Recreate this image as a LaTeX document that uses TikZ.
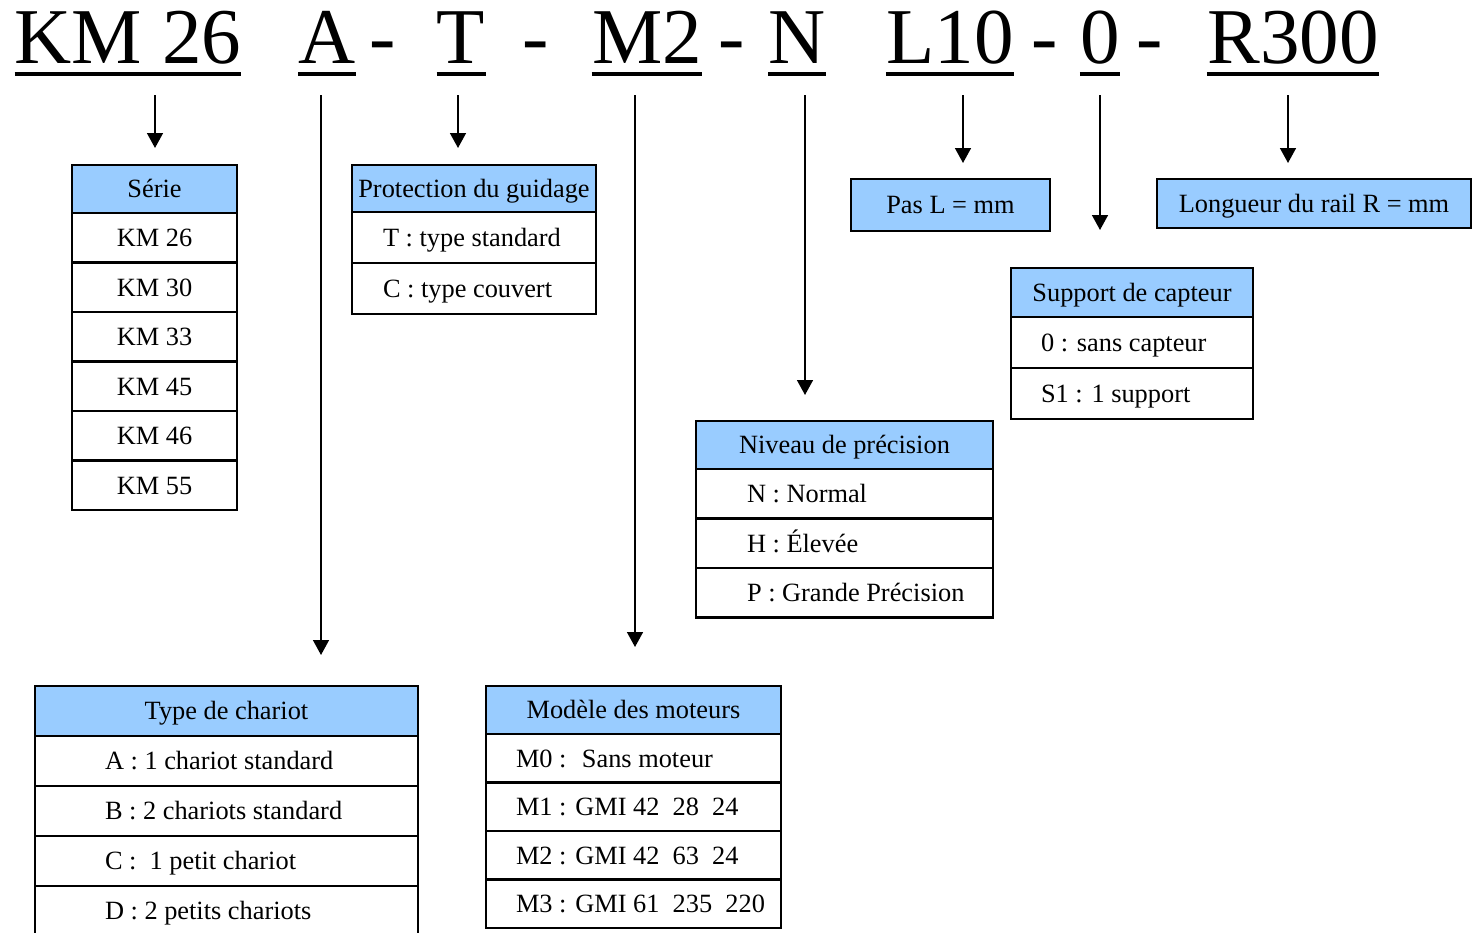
\documentclass[tikz,border=0pt]{standalone}
\usepackage{fontspec}
\setmainfont{Liberation Serif}
\usetikzlibrary{arrows.meta,positioning}
\definecolor{bleuciel}{HTML}{99CCFF}
\tikzset{
  code/.style={font=\fontsize{45}{54}\selectfont, inner sep=0pt, anchor=base},
  souligne/.style={line width=2.3pt},
  fleche/.style={-{Triangle[width=9pt,length=8.5pt]}, line width=1.1pt, shorten <=0.64cm},
  cadre/.style={draw, line width=1.5pt, outer sep=0pt, inner sep=0pt, text height=10pt, text depth=0pt},
  entete/.style={cadre, fill=bleuciel},
  cellule/.style={cadre, fill=white},
  gauche/.style 2 args={execute at begin node={\hbox to #1\bgroup\hspace*{#2}}, execute at end node={\hfil\egroup}},
}

\begin{document}
\begin{tikzpicture}[font=\fontsize{15}{18}\selectfont]
\useasboundingbox (0,0) rectangle (29.44,-18.64);

% code de commande
\node[code] (cserie)   at (2.56,-1.26)  {KM 26};
\node[code] (cchariot) at (6.54,-1.26)  {A};
\node[code] (tiret1)   at (7.66,-1.26)  {-};
\node[code] (cprot)    at (9.22,-1.26)  {T};
\node[code] (tiret2)   at (10.72,-1.26) {-};
\node[code] (cmoteur)  at (12.94,-1.26) {M2};
\node[code] (tiret3)   at (14.64,-1.26) {-};
\node[code] (cprec)    at (15.94,-1.26) {N};
\node[code] (cpas)     at (19.00,-1.26) {L10};
\node[code] (tiret4)   at (20.90,-1.26) {-};
\node[code] (ccapteur) at (22.00,-1.26) {0};
\node[code] (tiret5)   at (23.00,-1.26) {-};
\node[code] (crail)    at (25.86,-1.26) {R300};
\foreach \c in {cserie,cchariot,cprot,cmoteur,cprec,cpas,ccapteur,crail}
  \draw[souligne] ([yshift=-6.2pt]\c.base west) -- ([yshift=-6.2pt]\c.base east);

% serie
\node[entete, minimum width=3.3cm, minimum height=0.96cm] (serie0) at (3.09,-3.78) {Série};
\foreach \txt [count=\i, evaluate=\i as \j using int(\i-1)] in {KM 26,KM 30,KM 33,KM 45,KM 46,KM 55}
  \node[cellule, minimum width=3.3cm, minimum height=0.99cm, below=0pt of serie\j] (serie\i) {\txt};

% protection
\node[entete, minimum width=4.88cm, minimum height=0.94cm] (prot0) at (9.48,-3.77) {Protection du guidage};
\foreach \txt [count=\i, evaluate=\i as \j using int(\i-1)] in {T : type standard,C : type couvert}
  \node[cellule, gauche={4.88cm}{0.62cm}, minimum height=1.02cm, below=0pt of prot\j] (prot\i) {\txt};

% pas et longueur
\node[entete, minimum width=3.98cm, minimum height=1.04cm] (pas) at (19.01,-4.10) {Pas L = mm};
\node[entete, minimum width=6.28cm, minimum height=0.98cm] (rail) at (26.28,-4.07) {Longueur du rail R = mm};

% capteur
\node[entete, minimum width=4.84cm, minimum height=0.98cm] (capteur0) at (22.64,-5.85) {Support de capteur};
\foreach \txt [count=\i, evaluate=\i as \j using int(\i-1)] in {0 : sans capteur,S1 : 1 support}
  \node[cellule, gauche={4.84cm}{0.6cm}, minimum height=1.02cm, below=0pt of capteur\j] (capteur\i) {\txt};

% precision
\node[entete, minimum width=5.94cm, minimum height=0.96cm] (prec0) at (16.89,-8.90) {Niveau de précision};
\foreach \txt [count=\i, evaluate=\i as \j using int(\i-1)] in {N : Normal,H : Élevée,P : Grande Précision}
  \node[cellule, gauche={5.94cm}{1.02cm}, minimum height=0.99cm, below=0pt of prec\j] (prec\i) {\txt};

% chariot
\node[entete, minimum width=7.66cm, minimum height=1.0cm] (chariot0) at (4.53,-14.22) {Type de chariot};
\foreach \txt [count=\i, evaluate=\i as \j using int(\i-1)] in {A : 1 chariot standard,B : 2 chariots standard,C :~ 1 petit chariot,D : 2 petits chariots}
  \node[cellule, gauche={7.66cm}{1.4cm}, minimum height=1.0cm, below=0pt of chariot\j] (chariot\i) {\txt};

% moteurs
\node[entete, minimum width=5.9cm, minimum height=0.96cm] (moteur0) at (12.67,-14.20) {Modèle des moteurs};
\foreach \txt [count=\i, evaluate=\i as \j using int(\i-1)] in {M0 :~ Sans moteur,M1 : GMI 42~ 28~ 24,M2 : GMI 42~ 63~ 24,M3 : GMI 61~ 235~ 220}
  \node[cellule, gauche={5.9cm}{0.6cm}, minimum height=0.97cm, below=0pt of moteur\j] (moteur\i) {\txt};

% fleches
\foreach \c/\b/\dx/\g in {cserie/serie0/0.54/0.34, cchariot/chariot0/-0.12/0.62, cprot/prot0/-0.06/0.34,
    cmoteur/moteur0/-0.24/0.78, cprec/prec0/0.16/0.52, cpas/pas/0.26/0.32, ccapteur/capteur0/0/0.76, crail/rail/-0.10/0.32}
  \draw[fleche, shorten >=\g cm] ([xshift=\dx cm]\c.base) -- ([xshift=\dx cm]\c.base |- \b.north);
\end{tikzpicture}
\end{document}
